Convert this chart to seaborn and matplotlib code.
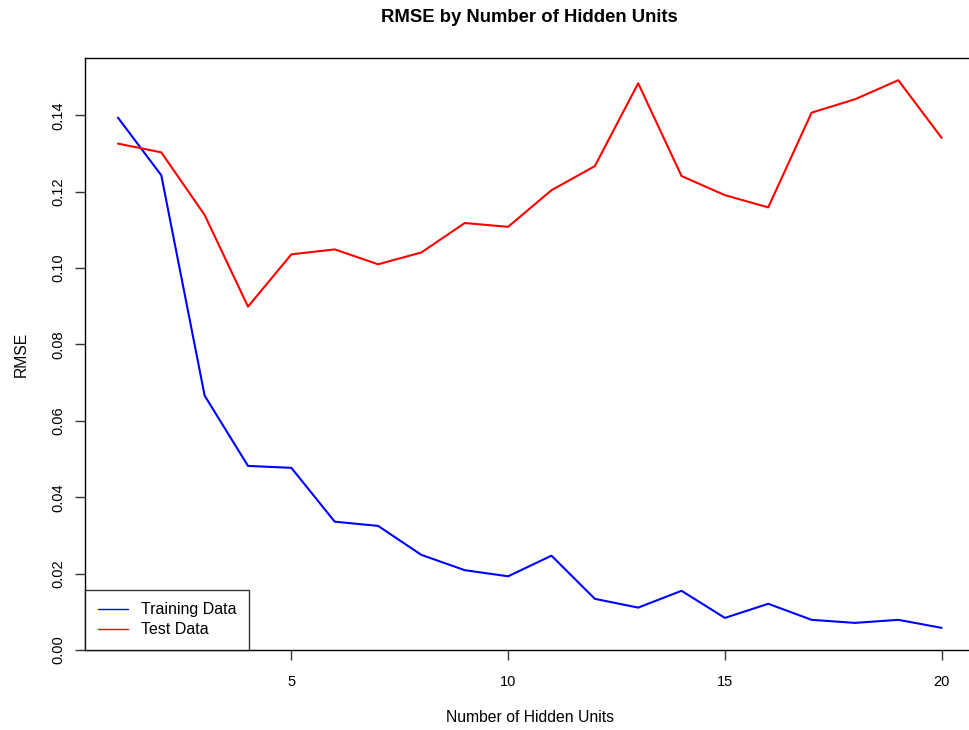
import matplotlib
matplotlib.use("Agg")
import matplotlib.pyplot as plt
import seaborn as sns
import pandas as pd
import numpy as np
from matplotlib.lines import Line2D

hidden_units = list(range(1, 21))
train_rmse = [0.1394, 0.1243, 0.0666, 0.0482, 0.0477, 0.0336, 0.0325, 0.0249, 0.0209, 0.0193,
              0.0247, 0.0134, 0.0111, 0.0155, 0.0084, 0.0121, 0.0079, 0.0071, 0.0079, 0.0058]
test_rmse = [0.1326, 0.1303, 0.1139, 0.0899, 0.1036, 0.1049, 0.1010, 0.1041, 0.1118, 0.1108,
             0.1204, 0.1267, 0.1484, 0.1241, 0.1191, 0.1159, 0.1407, 0.1442, 0.1492, 0.1341]
series_names = ["Training Data", "Test Data"]
series_colors = ["#0000ff", "#ff0000"]
x_ticks = [5, 10, 15, 20]
y_ticks = [0.00, 0.02, 0.04, 0.06, 0.08, 0.10, 0.12, 0.14]

df = pd.DataFrame({
    "units": hidden_units * 2,
    "rmse": train_rmse + test_rmse,
    "series": [series_names[0]] * len(hidden_units) + [series_names[1]] * len(hidden_units),
})

sns.set_style("white")
plt.rcParams['font.family'] = ['Liberation Sans', 'DejaVu Sans']
plt.rcParams['text.color'] = 'black'
plt.rcParams['axes.labelcolor'] = 'black'
plt.rcParams['xtick.color'] = 'black'
plt.rcParams['ytick.color'] = 'black'

W, H = 969, 730
fig = plt.figure(figsize=(W / 100, H / 100), dpi=100)
left_px, right_px, top_px, bottom_px = 85, 974.6, 58.3, 650
ax = fig.add_axes([left_px / W, 1 - bottom_px / H, (right_px - left_px) / W, (bottom_px - top_px) / H])

sns.lineplot(data=df, x="units", y="rmse", hue="series", palette=series_colors,
             linewidth=1.5, ax=ax, legend=False)

xr = max(hidden_units) - min(hidden_units)
ax.set_xlim(min(hidden_units) - 0.04 * xr, max(hidden_units) + 0.04 * xr)
all_y = train_rmse + test_rmse
yr = max(all_y) - min(all_y)
ax.set_ylim(min(all_y) - 0.04 * yr, max(all_y) + 0.04 * yr)

ax.set_xticks(x_ticks)
ax.set_xticklabels([str(t) for t in x_ticks], fontsize=10.5)
ax.set_yticks(y_ticks)
ax.set_yticklabels([f"{t:.2f}" for t in y_ticks], fontsize=10.5, rotation=90, va="center")
ax.tick_params(axis="both", direction="out", length=7.2, width=1, color="#333333",
               bottom=True, left=True)
ax.tick_params(axis="x", pad=11)
ax.tick_params(axis="y", pad=7)

for s in ax.spines.values():
    s.set_visible(True)
    s.set_color("black")
    s.set_linewidth(1)

ax.set_xlabel("Number of Hidden Units", fontsize=11.3, labelpad=15)
ax.set_ylabel("RMSE", fontsize=11.3, labelpad=16)

fig.text((left_px + right_px) / 2 / W, 1 - 18 / H, "RMSE by Number of Hidden Units",
         ha="center", va="center", fontsize=13.3, fontweight="bold", color="black")

handles = [Line2D([0], [0], color=c, lw=1) for c in series_colors]
leg = ax.legend(handles, series_names, loc="lower left", bbox_to_anchor=(0, 0),
                borderaxespad=0, fancybox=False, frameon=True, fontsize=11.5,
                handlelength=1.9, handletextpad=0.8, borderpad=0.8, labelspacing=0.3)
leg.get_frame().set_edgecolor("black")
leg.get_frame().set_linewidth(1)
leg.get_frame().set_boxstyle("square", pad=0)

fig.savefig("out.png", dpi=100)
